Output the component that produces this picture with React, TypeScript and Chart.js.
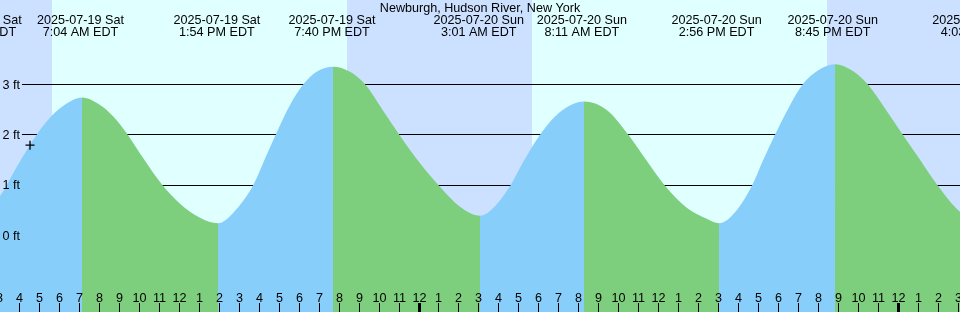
import React, { useEffect, useRef } from "react";
import { Chart, registerables } from "chart.js";

Chart.register(...registerables);

const TITLE = "Newburgh, Hudson River, New York";

// Time axis: hours since 2025-07-19 00:00 EDT
const X_MIN = 3.035;
const X_MAX = 51.125;
const Y_MIN = -1.522;
const Y_MAX = 4.674;

// Tide curve (hours, feet)
const tideHours = [
  1.95, 3.035, 3.872, 4.873, 5.64, 6.376, 7.143, 8.045, 8.711, 9.432,
  10.214, 11.166, 12.052, 13.054, 13.956, 14.722, 15.724, 16.395, 16.846, 17.563,
  18.229, 18.9, 19.717, 20.568, 21.32, 22.236, 23.038, 24.075, 24.992, 26.079,
  27.081, 27.832, 28.619, 29.25, 30.087, 31.088, 32.291, 33.428, 34.51, 35.432,
  36.314, 37.435, 38.437, 39.054, 39.94, 40.722, 41.273, 41.859, 42.525, 43.247,
  44.028, 44.865, 45.701, 46.503, 47.369, 48.256, 49.122, 49.989, 51.126, 52.05,
];
const tideHeights = [
  0.33, 0.78, 1.36, 2.0, 2.38, 2.62, 2.74, 2.59, 2.36, 2.0,
  1.53, 1.0, 0.63, 0.35, 0.24, 0.45, 1.0, 1.6, 2.0, 2.59,
  3.0, 3.25, 3.35, 3.25, 3.0, 2.47, 2.0, 1.43, 1.0, 0.57,
  0.39, 0.58, 1.0, 1.46, 2.0, 2.45, 2.66, 2.49, 2.0, 1.48,
  1.0, 0.55, 0.33, 0.24, 0.5, 1.0, 1.5, 2.0, 2.52, 3.0,
  3.28, 3.4, 3.28, 3.0, 2.52, 2.0, 1.5, 1.0, 0.47, 0.3,
];

// High / low tide labels
const extremeHours = [1.95, 7.067, 13.9, 19.667, 27.017, 32.183, 38.933, 44.75, 52.05];
const extremeDays = [
  "2025-07-19 Sat", "2025-07-19 Sat", "2025-07-19 Sat", "2025-07-19 Sat",
  "2025-07-20 Sun", "2025-07-20 Sun", "2025-07-20 Sun", "2025-07-20 Sun",
  "2025-07-21 Mon",
];
const extremeClock = [
  "1:57 AM EDT", "7:04 AM EDT", "1:54 PM EDT", "7:40 PM EDT",
  "3:01 AM EDT", "8:11 AM EDT", "2:56 PM EDT", "8:45 PM EDT",
  "4:03 AM EDT",
];

// Daylight intervals
const sunriseHours = [5.64, 29.686];
const sunsetHours = [20.418, 44.464];

// Current time marker
const nowHour = [4.538];
const nowHeight = [1.79];

// Y axis levels
const levelValues = [0, 1, 2, 3];
const levelLabels = ["0 ft", "1 ft", "2 ft", "3 ft"];

// Hour ticks
const tickHours = Array.from({ length: 49 }, (_, i) => 3 + i);

const RISE = "#87cefa";
const FALL = "#7dcf7d";
const DAY = "#e0ffff";
const NIGHT = "#cce0ff";
const FONT = '12.6px "Liberation Sans", Arial, sans-serif';

const decorPlugin = {
  id: "decor",
  beforeDatasetsDraw(chart: any) {
    const { ctx, width, height } = chart;
    const xs = chart.scales.x;
    const ys = chart.scales.y;
    ctx.save();
    ctx.fillStyle = NIGHT;
    ctx.fillRect(0, 0, width, height);
    ctx.fillStyle = DAY;
    for (let i = 0; i < sunriseHours.length; i++) {
      const a = xs.getPixelForValue(sunriseHours[i]);
      const b = xs.getPixelForValue(sunsetHours[i]);
      ctx.fillRect(Math.round(a), 0, Math.round(b) - Math.round(a), height);
    }
    ctx.strokeStyle = "#000";
    ctx.lineWidth = 1;
    for (const v of levelValues) {
      const y = Math.floor(ys.getPixelForValue(v)) + 0.5;
      ctx.beginPath();
      ctx.moveTo(22, y);
      ctx.lineTo(width, y);
      ctx.stroke();
    }
    ctx.restore();
  },
  afterDatasetsDraw(chart: any) {
    const { ctx, width, height } = chart;
    const xs = chart.scales.x;
    const ys = chart.scales.y;
    ctx.save();
    ctx.font = FONT;
    ctx.fillStyle = "#000";
    ctx.textBaseline = "alphabetic";
    // y labels
    ctx.textAlign = "left";
    levelValues.forEach((v, i) => {
      const y = ys.getPixelForValue(v);
      ctx.fillText(levelLabels[i], 2.5, y + 4.3);
    });
    // hour ticks
    ctx.textAlign = "center";
    for (const h of tickHours) {
      const x = xs.getPixelForValue(h);
      const mid = h % 24 === 0;
      const px = Math.round(x);
      if (mid) {
        ctx.fillRect(px - 1, 303, 3, height - 303);
      } else {
        ctx.fillRect(px, 303, 1, height - 303);
      }
      const lab = String(h % 12 === 0 ? 12 : h % 12);
      ctx.fillText(lab, px + 0.5, 302);
    }
    // extremes labels
    extremeHours.forEach((h, i) => {
      const x = xs.getPixelForValue(h);
      ctx.fillText(extremeDays[i], x, 24);
      ctx.fillText(extremeClock[i], x, 36);
    });
    // title
    ctx.fillText(TITLE, width / 2, 12);
    ctx.restore();
  },
};

export default function App() {
  const ref = useRef<HTMLCanvasElement | null>(null);
  useEffect(() => {
    if (!ref.current) return;
    const chart = new Chart(ref.current, {
      type: "line",
      data: {
        datasets: [
          {
            type: "scatter",
            data: nowHour.map((h, i) => ({ x: h, y: nowHeight[i] })),
            pointStyle: "cross",
            pointRadius: 4.5,
            pointBorderColor: "#000",
            pointBorderWidth: 1.3,
            showLine: false,
          } as any,
          {
            data: tideHours.map((h, i) => ({ x: h, y: tideHeights[i] })),
            borderColor: "rgba(0,0,0,0)",
            borderWidth: 0,
            pointRadius: 0,
            backgroundColor: RISE,
            fill: "start",
            cubicInterpolationMode: "monotone",
            segment: {
              backgroundColor: (c: any) =>
                c.p1.parsed.y >= c.p0.parsed.y ? RISE : FALL,
            },
          } as any,
        ],
      },
      options: {
        animation: false,
        responsive: false,
        maintainAspectRatio: false,
        devicePixelRatio: 1,
        layout: { padding: 0, autoPadding: false },
        plugins: {
          legend: { display: false },
          tooltip: { enabled: false },
          title: { display: false },
        },
        events: [],
        scales: {
          x: { type: "linear", min: X_MIN, max: X_MAX, display: false },
          y: { type: "linear", min: Y_MIN, max: Y_MAX, display: false },
        },
      },
      plugins: [decorPlugin],
    });
    return () => chart.destroy();
  }, []);
  return (
    <div style={{ position: "fixed", left: 0, top: 0, width: 960, height: 312 }}>
      <canvas ref={ref} width={960} height={312} style={{ display: "block" }} />
    </div>
  );
}
